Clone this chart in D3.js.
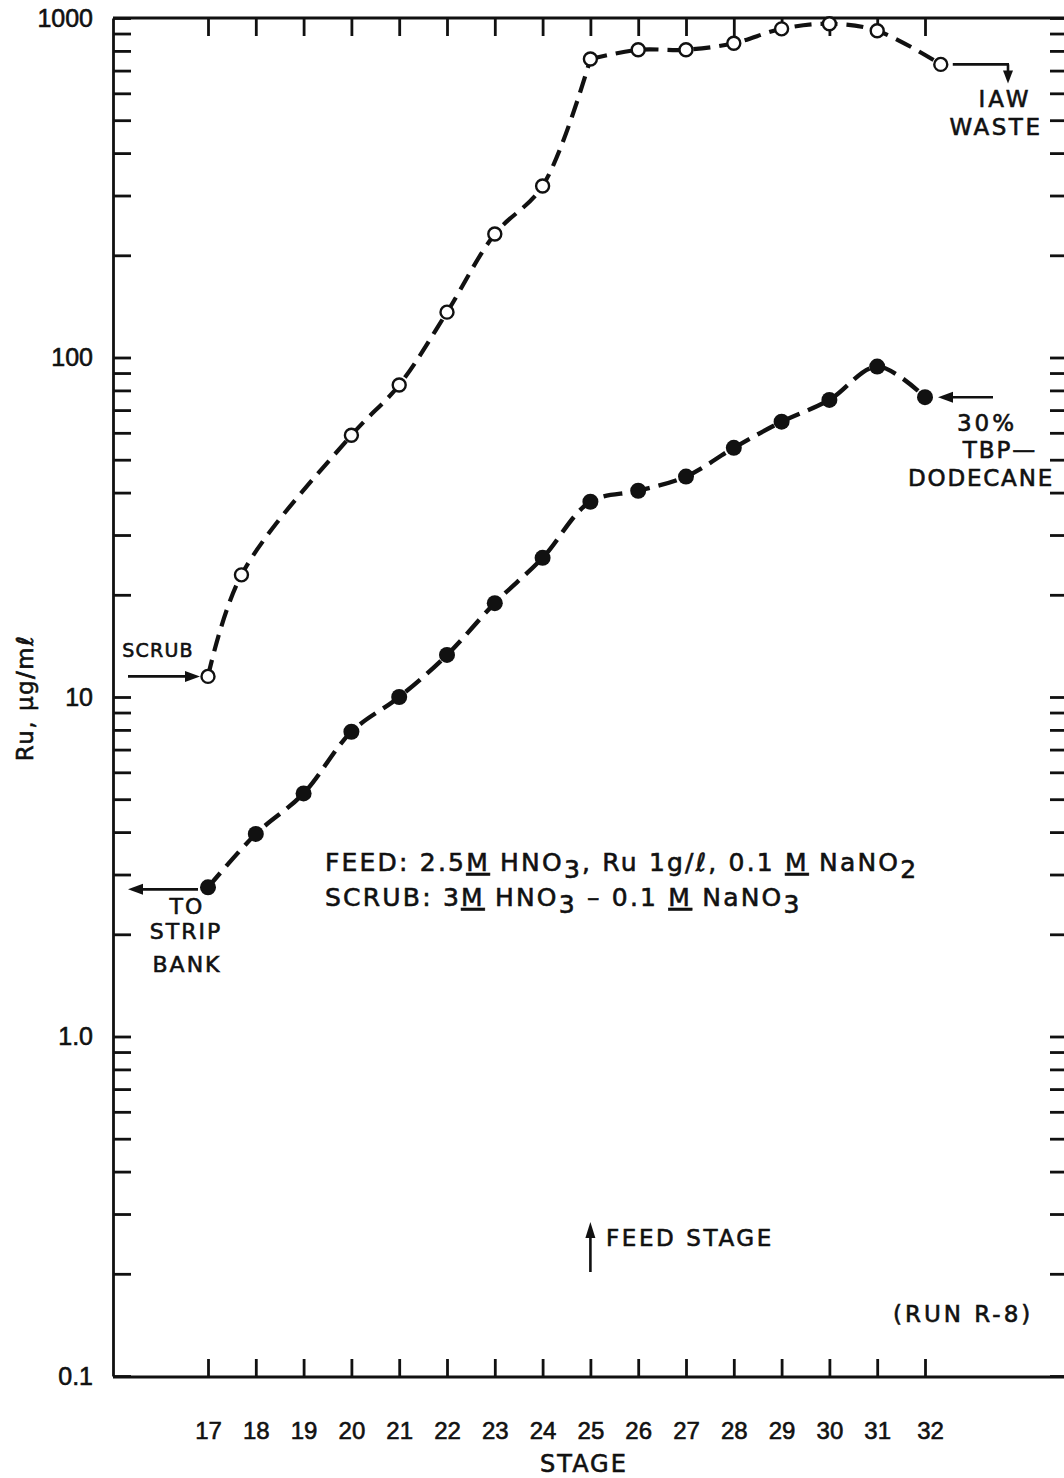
<!DOCTYPE html>
<html>
<head>
<meta charset="utf-8">
<script src="https://cdn.jsdelivr.net/npm/d3@7"></script>
<style>
  html, body { margin: 0; padding: 0; background: #fff; }
  svg { display: block; }
  text { font-family: "DejaVu Sans", "Liberation Sans", sans-serif; fill: #111; stroke: #111; stroke-width: 0.6px; }
</style>
</head>
<body>
<svg id="chart" width="1064" height="1478"></svg>
<script>
// Ruthenium profile across the extraction bank, run R-8
const stageTicks = [17, 18, 19, 20, 21, 22, 23, 24, 25, 26, 27, 28, 29, 30, 31, 32];
const feedStage = 25;

// aqueous phase (open circles)
const aqueousStages = [17, 17.7, 20, 21, 22, 23, 24, 25, 26, 27, 28, 29, 30, 31, 32.33];
const aqueousRu     = [11.5, 22.9, 59, 83, 136, 231, 320, 757, 806, 806, 843, 929, 962, 917, 730];

// organic phase (filled circles)
const organicStages = [17, 18, 19, 20, 21, 22, 23, 24, 25, 26, 27, 28, 29, 30, 31, 32];
const organicRu     = [2.75, 3.95, 5.2, 7.9, 10, 13.3, 18.9, 25.7, 37.6, 40.5, 44.6, 54.2, 64.7, 75, 94, 76.4];

const yMajor = [0.1, 1, 10, 100, 1000];
const yMajorLabels = ["0.1", "1.0", "10", "100", "1000"];

const frame = { left: 113, right: 1068, top: 18, bottom: 1377 };

const svg = d3.select("#chart");

const x = d3.scaleLinear().domain([17, 32]).range([208, 925]);
const y = d3.scaleLog().domain([0.1, 1000]).range([frame.bottom - 1, frame.top]);

// every 1..9 multiple within each decade
const yAll = [];
for (let e = -1; e < 3; e++) for (let m = 1; m < 10; m++) yAll.push(m * Math.pow(10, e));
yAll.push(1000);

const labelOf = d => {
  const i = yMajor.findIndex(v => Math.abs(v - d) / d < 1e-6);
  return i >= 0 ? yMajorLabels[i] : "";
};

function styleAxis(g) {
  g.select(".domain").attr("stroke", "#111").attr("stroke-width", 2.8);
  g.selectAll(".tick line").attr("stroke", "#111").attr("stroke-width", 2.8);
  g.selectAll(".tick text")
    .style("font-family", "Liberation Sans, Arial, sans-serif")
    .attr("fill", "#111").attr("stroke", "#111").attr("stroke-width", 0.7);
}

// left axis with decade labels
svg.append("g")
  .attr("transform", `translate(${frame.left},0)`)
  .call(d3.axisLeft(y).tickValues(yAll).tickSize(-18).tickSizeOuter(0).tickPadding(20).tickFormat(labelOf))
  .call(styleAxis)
  .call(g => g.selectAll(".tick text").attr("font-size", 25));

// right axis (ticks only)
svg.append("g")
  .attr("transform", `translate(${frame.right},0)`)
  .call(d3.axisRight(y).tickValues(yAll).tickSize(-18).tickSizeOuter(0).tickFormat(""))
  .call(styleAxis);

// bottom axis with stage numbers
svg.append("g")
  .attr("transform", `translate(0,${frame.bottom})`)
  .call(d3.axisBottom(x).tickValues(stageTicks).tickSize(-18).tickSizeOuter(0).tickPadding(45).tickFormat(d3.format("d")))
  .call(g => g.select(".domain").attr("d", `M${frame.left},0H${frame.right}`))
  .call(styleAxis)
  .call(g => g.selectAll(".tick text").attr("font-size", 24).attr("dx", d => d === 32 ? 5 : 0));

// top axis (ticks only)
svg.append("g")
  .attr("transform", `translate(0,${frame.top})`)
  .call(d3.axisTop(x).tickValues(stageTicks).tickSize(-18).tickSizeOuter(0).tickFormat(""))
  .call(g => g.select(".domain").attr("d", `M${frame.left},0H${frame.right}`))
  .call(styleAxis);

// axis titles
svg.append("text")
  .attr("x", 584).attr("y", 1465).attr("text-anchor", "middle").attr("dominant-baseline", "middle")
  .attr("font-size", 24).attr("letter-spacing", 2).text("STAGE");

svg.append("text")
  .attr("transform", "translate(26,698) rotate(-90)")
  .attr("text-anchor", "middle").attr("dominant-baseline", "middle")
  .attr("font-size", 23).attr("letter-spacing", 1.5).text("Ru, μg/mℓ");

// profile lines
const line = d3.line().x(d => x(d[0])).y(d => y(d[1])).curve(d3.curveCatmullRom.alpha(0.5));
const aqueous = d3.zip(aqueousStages, aqueousRu);
const organic = d3.zip(organicStages, organicRu);

// the aqueous profile breaks sharply at the feed stage
[aqueous.filter(d => d[0] <= feedStage), aqueous.filter(d => d[0] >= feedStage)].forEach(part => {
  svg.append("path").datum(part)
    .attr("d", line).attr("fill", "none").attr("stroke", "#111")
    .attr("stroke-width", 4.2).attr("stroke-dasharray", "17,9");
});

svg.append("path").datum(organic)
  .attr("d", line).attr("fill", "none").attr("stroke", "#111")
  .attr("stroke-width", 4.4).attr("stroke-dasharray", "19,9");

svg.append("g").selectAll("circle").data(aqueous).join("circle")
  .attr("cx", d => x(d[0])).attr("cy", d => y(d[1])).attr("r", 6.5)
  .attr("fill", "#fff").attr("stroke", "#111").attr("stroke-width", 2.4);

svg.append("g").selectAll("circle").data(organic).join("circle")
  .attr("cx", d => x(d[0])).attr("cy", d => y(d[1])).attr("r", 8)
  .attr("fill", "#111");

// arrows
function arrowHead(tipX, tipY, dir, len = 15, half = 5.5) {
  // dir: unit vector pointing toward the tip
  const bx = tipX - dir[0] * len, by = tipY - dir[1] * len;
  const px = -dir[1] * half, py = dir[0] * half;
  svg.append("path")
    .attr("d", `M${tipX},${tipY}L${bx + px},${by + py}L${bx - px},${by - py}Z`)
    .attr("fill", "#111");
}
function seg(x1, y1, x2, y2, w = 2.6) {
  svg.append("line").attr("x1", x1).attr("y1", y1).attr("x2", x2).attr("y2", y2)
    .attr("stroke", "#111").attr("stroke-width", w);
}
function label(t, cx, cy, size = 22, spacing = 2, anchor = "middle") {
  return svg.append("text").attr("x", cx).attr("y", cy).attr("text-anchor", anchor)
    .attr("dominant-baseline", "middle").attr("font-size", size).attr("letter-spacing", spacing).text(t);
}

// scrub entering at the first stage
const aq0 = aqueous[0];
const aqY0 = y(aq0[1]);
seg(128, aqY0, x(aq0[0]) - 20, aqY0);
arrowHead(x(aq0[0]) - 8, aqY0, [1, 0]);
label("SCRUB", 158, aqY0 - 25, 19, 1.2);

// organic leaving to the strip bank
const org0 = organic[0];
const orgY0 = y(org0[1]);
seg(x(org0[0]) - 10, orgY0 + 2, 140, orgY0 + 2);
arrowHead(128, orgY0 + 2, [-1, 0]);
label("TO", 187, 908, 22, 2);
label("STRIP", 186, 933, 22, 2);
label("BANK", 187, 966, 22, 2);

// aqueous raffinate leaving
const aqN = aqueous[aqueous.length - 1];
const aqYN = y(aqN[1]);
seg(x(aqN[0]) + 12, aqYN, 1009, aqYN);
seg(1008, aqYN, 1008, aqYN + 8);
arrowHead(1008, aqYN + 19, [0, 1], 13, 5);
label("IAW", 1005, 100, 23, 3);
label("WASTE", 996, 128, 23, 2.5);

// solvent entering at the last stage
const orgN = organic[organic.length - 1];
const orgYN = y(orgN[1]);
seg(993, orgYN, x(orgN[0]) + 24, orgYN);
arrowHead(x(orgN[0]) + 13, orgYN, [-1, 0]);
label("30%", 987, 424, 23, 3);
label("TBP—", 1000, 451, 23, 2);
label("DODECANE", 981, 479, 23, 1.8);

// feed point
seg(x(feedStage), 1272, x(feedStage), 1236);
arrowHead(x(feedStage), 1222, [0, -1], 16, 5);
label("FEED  STAGE", 606, 1239, 23, 2.6, "start");
label("(RUN  R-8)", 893, 1315, 23, 3, "start");

// solution compositions
function composition(yPos, parts) {
  const t = svg.append("text").attr("x", 325).attr("y", yPos).attr("font-size", 25).attr("letter-spacing", 2.2);
  parts.forEach(p => {
    const s = t.append("tspan").text(p.t);
    if (p.u) s.style("text-decoration", "underline");
    if (p.sub) s.attr("dy", 7);
    if (p.up) s.attr("dy", -7);
  });
}
composition(871, [
  { t: "FEED:  2.5" }, { t: "M", u: true }, { t: "  HNO" }, { t: "3", sub: true },
  { t: ",  Ru  1g/ℓ,  0.1 ", up: true }, { t: "M", u: true }, { t: " NaNO" }, { t: "2", sub: true }
]);
composition(906, [
  { t: "SCRUB:  3" }, { t: "M", u: true }, { t: " HNO" }, { t: "3", sub: true },
  { t: " – 0.1 ", up: true }, { t: "M", u: true }, { t: "  NaNO" }, { t: "3", sub: true }
]);
</script>
</body>
</html>
